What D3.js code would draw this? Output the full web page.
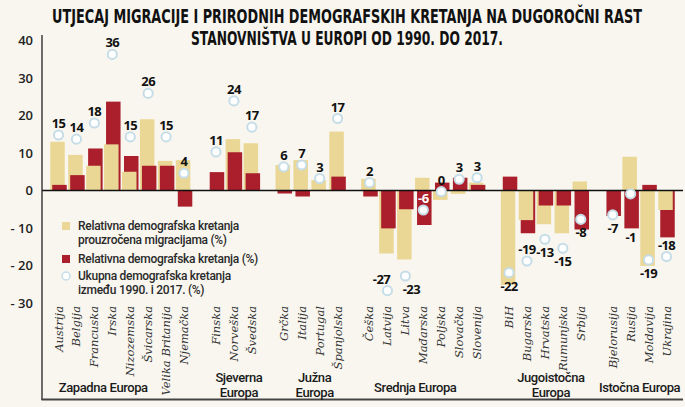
<!DOCTYPE html>
<html><head><meta charset="utf-8">
<script src="https://cdn.jsdelivr.net/npm/d3@7"></script>
<style>
body{margin:0;background:#f8f6ef}
svg{display:block}
</style></head>
<body><svg id="chart" width="685" height="407"></svg>
<script>
// ---------- data ----------
const categories = ["Austrija","Belgija","Francuska","Irska","Nizozemska","Švicarska","Velika Britanija","Njemačka",
  "Finska","Norveška","Švedska",
  "Grčka","Italija","Portugal","Španjolska",
  "Češka","Latvija","Litva","Mađarska","Poljska","Slovačka","Slovenija",
  "BiH","Bugarska","Hrvatska","Rumunjska","Srbija",
  "Bjelorusija","Rusija","Moldavija","Ukrajina"];
const groups = ["Zapadna Europa","Sjeverna Europa","Južna Europa","Srednja Europa","Jugoistočna Europa","Istočna Europa"];
const groupSizes = [8,3,4,7,5,4];
// relative change caused by migration (%)
const migration = [13.0,9.5,6.6,12.3,5.0,19.0,7.9,8.1,
  0,13.7,12.6,
  6.8,8.1,2.8,15.7,
  3.1,-16.8,-18.4,3.4,-2.5,-0.9,2.1,
  -25.2,-7.9,-9.0,-11.4,2.4,
  0,9.0,-20.1,-5.2];
// relative (natural) change (%)
const natural = [1.5,4.1,11.2,23.7,9.2,6.6,6.6,-4.3,
  4.9,10.2,4.6,
  -0.8,-1.6,0,3.7,
  -1.6,-10.1,-5.0,-9.2,2.1,3.4,1.5,
  3.7,-11.4,-4.0,-4.0,-10.4,
  -6.8,-10.1,1.5,-12.5];
// total change 1990-2017 (%) – marker position
const totalPos = [14.8,13.7,18,36.3,14.3,25.9,14.3,4.6,
  10.3,23.9,16.9,
  6.3,6.8,3.2,19.2,
  2.1,-26.7,-22.8,-5.2,-0.3,3,3.4,
  -21.9,-18.8,-13,-15.4,-7.7,
  -6.5,-0.9,-18.5,-17.6];
// total change labels
const totalLabels = ["15","14","18","36","15","26","15","4",
  "11","24","17",
  "6","7","3","17",
  "2","-27","-23","-6","0","3","3",
  "-22","-19","-13","-15","-8",
  "-7","-1","-19","-18"];
const labelSide = ["a","a","a","a","a","a","a","a",
  "a","a","a",
  "a","a","a","a",
  "a","a","b","a","a","a","a",
  "b","a","b","b","b",
  "b","bar","b","a"];
const yTicks = [40,30,20,10,0,-10,-20,-30];
const yTickLabels = ["40","30","20","10","0","- 10","- 20","- 30"];
const legendItems = [
  {type:"mig", lines:["Relativna demografska kretanja","prouzročena migracijama (%)"]},
  {type:"nat", lines:["Relativna demografska kretanja (%)"]},
  {type:"tot", lines:["Ukupna demografska kretanja","između 1990. i 2017. (%)"]}
];
const titleLines = ["UTJECAJ MIGRACIJE I PRIRODNIH DEMOGRAFSKIH KRETANJA NA DUGOROČNI RAST","STANOVNIŠTVA U EUROPI OD 1990. DO 2017."];

// ---------- layout ----------
const C_MIG = "#ead795", C_NAT = "#aa1f2b", C_DOT = "#c6dde8";
const svg = d3.select("#chart");
svg.append("rect").attr("width",685).attr("height",407).attr("fill","#f8f6ef");

const gapExtra = 0.78;
const gIndex = [];
groupSizes.forEach((n,g)=>{ for(let k=0;k<n;k++) gIndex.push(g); });
const slot = categories.map((c,i)=> i + gIndex[i]*gapExtra);
const x = d3.scaleLinear().domain([0, d3.max(slot)]).range([58.5, 666.5]);
const y = d3.scaleLinear().domain([-30,40]).range([303, 40.5]);
const bw = 14.5;

// title (condensed by horizontal scaling to the reference width)
const tw = [590, 312];
const tBase = [23, 45];
titleLines.forEach((t,i)=>{
  const g = svg.append("g");
  const tx = g.append("text").attr("x",0).attr("y",0)
    .attr("text-anchor","middle")
    .style("font-family","'Liberation Sans Narrow','DejaVu Sans Condensed','Liberation Sans',sans-serif")
    .style("font-weight","bold").style("font-size","19.5px").attr("fill","#111")
    .text(t);
  const w = tx.node().getComputedTextLength();
  g.attr("transform",`translate(347,${tBase[i]}) scale(${tw[i]/w},1)`);
});

// y axis labels
const yAxis = d3.axisLeft(y).tickValues(yTicks).tickSize(0).tickPadding(9)
  .tickFormat((d,i)=>yTickLabels[i]);
const ya = svg.append("g").attr("transform","translate(42,0)").call(yAxis);
ya.select(".domain").remove();
ya.selectAll("text").style("font-family","'Open Sans',sans-serif").style("font-weight","600")
  .style("font-size","13px").attr("fill","#222");

// bars (the longer bar of each pair sits behind)
const bars = svg.append("g");
categories.forEach((c,i)=>{
  const items = [
    {v:migration[i], col:C_MIG, off:-1},
    {v:natural[i], col:C_NAT, off:1}
  ].sort((a,b)=>Math.abs(b.v)-Math.abs(a.v));
  items.forEach(it=>{
    if(it.v===0) return;
    bars.append("rect")
      .attr("x", x(slot[i]) + it.off - bw/2)
      .attr("y", y(Math.max(0,it.v)))
      .attr("width", bw)
      .attr("height", Math.abs(y(it.v)-y(0)))
      .attr("fill", it.col);
  });
});

// zero line, axes frame
svg.append("line").attr("x1",42).attr("x2",683).attr("y1",y(0)).attr("y2",y(0))
  .attr("stroke","#111").attr("stroke-width",1.6);
svg.append("line").attr("x1",42).attr("x2",42).attr("y1",35).attr("y2",400)
  .attr("stroke","#222").attr("stroke-width",1.3);
svg.append("line").attr("x1",41.5).attr("x2",683).attr("y1",399.5).attr("y2",399.5)
  .attr("stroke","#444").attr("stroke-width",2);

// markers and their labels
const nudge = {"Latvija":-6,"Litva":6};
categories.forEach((c,i)=>{
  const cy = y(totalPos[i]);
  svg.append("circle").attr("cx",x(slot[i])).attr("cy",cy).attr("r",4.6)
    .attr("fill","#fff").attr("stroke",C_DOT).attr("stroke-width",2);
  let ly;
  if(labelSide[i]==="a") ly = cy - 7;
  else if(labelSide[i]==="b") ly = cy + 18;
  else ly = y(Math.min(natural[i],migration[i])) + 14;
  svg.append("text").attr("x", x(slot[i]) + (nudge[c]||0)).attr("y", ly)
    .attr("text-anchor","middle")
    .style("font-family","'Open Sans',sans-serif").style("font-weight","700")
    .style("font-size","13px").style("letter-spacing","-0.6px")
    .attr("fill", c==="Mađarska" ? "#fff" : "#111")
    .text(totalLabels[i]);
});

// category labels
categories.forEach((c,i)=>{
  svg.append("text")
    .attr("transform",`translate(${x(slot[i])+4},306) rotate(-90)`)
    .attr("text-anchor","end")
    .style("font-family","'DejaVu Serif',serif").style("font-style","italic")
    .style("font-size","11.5px").attr("fill","#333")
    .text(c);
});

// group labels
const groupLines = [["Zapadna Europa"],["Sjeverna","Europa"],["Južna","Europa"],["Srednja Europa"],["Jugoistočna","Europa"],["Istočna Europa"]];
const groupDx = [-18,5,4,-8,6,0];
let start = 0;
groups.forEach((g,gi)=>{
  const a = x(slot[start]), b = x(slot[start+groupSizes[gi]-1]);
  const cx = (a+b)/2 + groupDx[gi];
  const lines = groupLines[gi];
  lines.forEach((t,li)=>{
    const yy = lines.length===1 ? 392 : 382 + li*15;
    svg.append("text").attr("x",cx).attr("y",yy).attr("text-anchor","middle")
      .style("font-family","Roboto,sans-serif").style("font-weight","500")
      .style("font-size","13px").style("letter-spacing","-0.4px").attr("fill","#1a1a1a")
      .text(t);
  });
  start += groupSizes[gi];
});

// legend
const lg = svg.append("g");
const legendY = [226, 259, 276];
legendItems.forEach((it,k)=>{
  const yy = legendY[k];
  if(it.type==="mig") lg.append("rect").attr("x",62).attr("y",yy-4).attr("width",8).attr("height",8).attr("fill",C_MIG);
  if(it.type==="nat") lg.append("rect").attr("x",62).attr("y",yy-4).attr("width",8).attr("height",8).attr("fill",C_NAT);
  if(it.type==="tot") lg.append("circle").attr("cx",66).attr("cy",yy).attr("r",4).attr("fill","#fff").attr("stroke",C_DOT).attr("stroke-width",1.5);
  it.lines.forEach((t,li)=>{
    lg.append("text").attr("x",78).attr("y",yy+4+li*13.5)
      .style("font-family","Roboto,sans-serif").style("font-weight","500")
      .style("font-size","12px").style("letter-spacing","-0.3px").attr("fill","#2a2a2a")
      .text(t);
  });
});
</script>
</body></html>
